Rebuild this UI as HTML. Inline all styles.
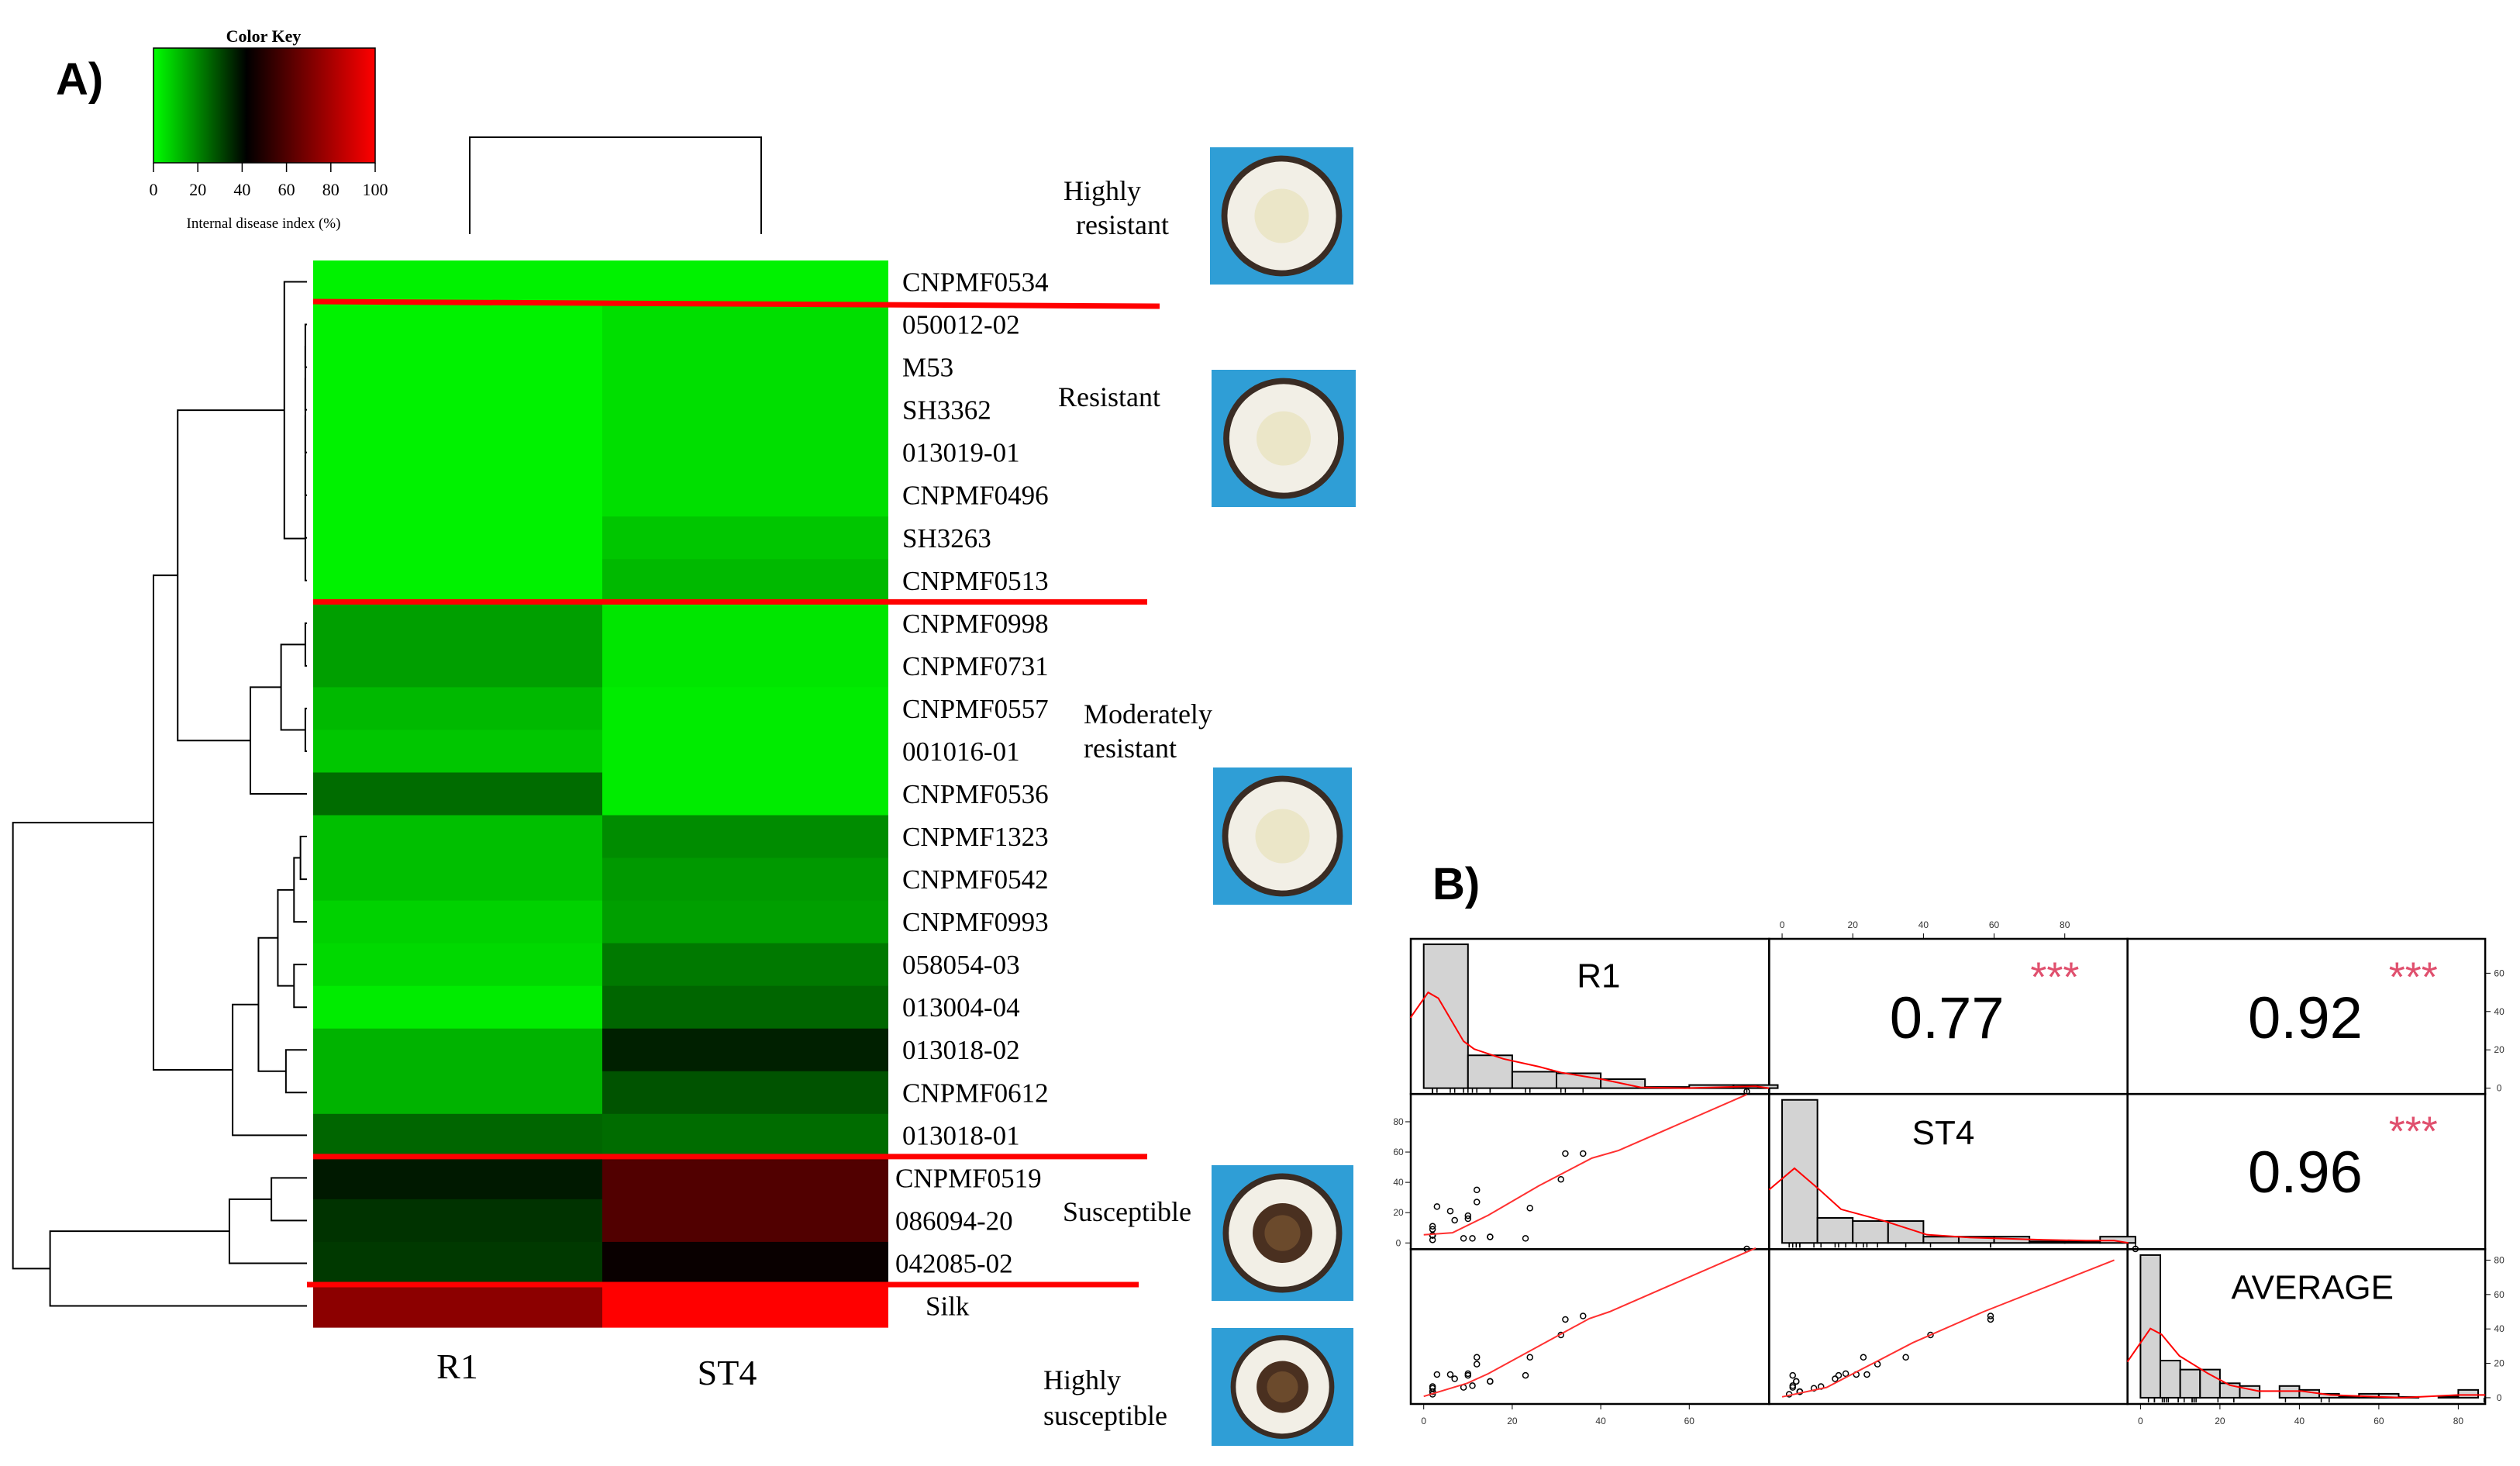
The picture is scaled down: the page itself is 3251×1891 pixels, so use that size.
<!DOCTYPE html>
<html><head><meta charset="utf-8"><style>
html,body{margin:0;padding:0;background:#fff;}
svg{display:block;}
.serif{font-family:"Liberation Serif",serif;}
.sans{font-family:"Liberation Sans",sans-serif;}
</style></head>
<body>
<svg id="fig" width="3251" height="1891" viewBox="0 0 3251 1891" xmlns="http://www.w3.org/2000/svg">
<defs>
<linearGradient id="keygrad" x1="0" x2="1" y1="0" y2="0">
<stop offset="0" stop-color="#00ff00"/><stop offset="0.42" stop-color="#000"/><stop offset="1" stop-color="#ff0000"/>
</linearGradient>
</defs>
<text class="sans" x="72" y="122" font-size="58" font-weight="bold">A)</text>
<text class="sans" x="1848" y="1160" font-size="58" font-weight="bold">B)</text>
<g>
<text class="serif" x="340" y="54" font-size="22" font-weight="bold" text-anchor="middle">Color Key</text>
<rect x="198" y="62" width="286" height="148" fill="url(#keygrad)" stroke="#000" stroke-width="1.5"/>
<g id="keyticks"></g>
<text class="serif" x="340" y="294" font-size="19" text-anchor="middle">Internal disease index (%)</text>
</g>
<g id="heat"></g>
<g id="dendro" stroke="#000" stroke-width="2" fill="none"></g>
<path d="M606 302 V177 H982 V302" stroke="#000" stroke-width="2" fill="none"/>
<g id="labels" class="serif" font-size="35"></g>
<g id="redlines" stroke="#ff0000" stroke-width="7"></g>
<text class="serif" x="590" y="1778" font-size="46" text-anchor="middle">R1</text>
<text class="serif" x="938" y="1786" font-size="46" text-anchor="middle">ST4</text>
<g class="serif" font-size="36">
<text x="1372" y="258">Highly<tspan x="1388" y="302">resistant</tspan></text>
<text x="1365" y="524">Resistant</text>
<text x="1398" y="933">Moderately<tspan x="1398" y="977">resistant</tspan></text>
<text x="1371" y="1575">Susceptible</text>
<text x="1346" y="1792">Highly<tspan x="1346" y="1838">susceptible</tspan></text>
</g>
<g id="photos"></g>
<g id="panelb"></g>
</svg>
<script>
// ---- heatmap data ----
const genotypes=["CNPMF0534","050012-02","M53","SH3362","013019-01","CNPMF0496","SH3263","CNPMF0513","CNPMF0998","CNPMF0731","CNPMF0557","001016-01","CNPMF0536","CNPMF1323","CNPMF0542","CNPMF0993","058054-03","013004-04","013018-02","CNPMF0612","013018-01","CNPMF0519","086094-20","042085-02","Silk"];
const r1Values=[2,2,2,2,2,2,2,2,15,15,11,9,23,10,10,7,6,3,12,12,24,36,32,31,73];
const st4Values=[2,5,5,5,5,5,9,11,4,4,3,3,3,18,16,15,21,24,35,27,23,59,59,42,100];
const keyTicks=[0,20,40,60,80,100];
const groupBreaks=[1,8,21,24];
// histogram densities (bin heights, relative units)
const r1HistBins=[0,10,20,30,40,50,60,70];
const r1HistH=[368,84,42,38,23,3,8,8];
const st4HistBins=[0,10,20,30,40,50,60,70,80,90];
const st4HistH=[366,64,56,56,16,16,16,4,4,16];
const avgHistBins=[0,5,10,15,20,25,30,35,40,45,50,55,60,65,70,75,80];
const avgHistH=[365,95,72,72,37,30,0,30,20,10,2,10,10,2,0,4,20];
const r1DensX=[-3,1,3.3,9,11.4,18,26,31,40.6,49,59,75,78];
const r1DensY=[180,245,230,120,100,75,55,40,22,2,0,5,0];
const st4DensX=[-3.7,3.5,10.6,16.7,29,41,53,74,86,94,98];
const st4DensY=[136,191,136,86,56,21,14,8,6,6,0];
const avgDensX=[-3.3,2.5,5.3,9.8,17,22.5,29.7,40.6,47.8,66,80,86.8];
const avgDensY=[92,177,162,107,62,32,17,17,7,0,7,7];
const smoothR1St4X=[0,6.5,14.6,26,38,44,73];
const smoothR1St4Y=[5.4,6.7,18.3,37.7,56,61,98];
const smoothR1AvgX=[0,9.8,14.6,37.4,42,75];
const smoothR1AvgY=[0.8,8.4,14,46,50,87];
const smoothSt4AvgX=[0,12.6,37,57,94];
const smoothSt4AvgY=[0.5,6,32,50,80];
const corrValues=["0.77","0.92","0.96"];
const axisTicks=[0,20,40,60,80];
// ---- tree (heights in display units) ----
const tree=[8,[95,[110,[176,0,[189,[189,[189,[189,[189,[189,1,2],3],4],5],6],7]],[155,[174,[189,8,9],[189,10,11]],12]],[144,[160,[172,[182,[186,13,14],15],[182,16,17]],[177,18,19]],20]],[31,[142,[168,21,22],23],24]];

const NS="http://www.w3.org/2000/svg";
function mk(tag,attrs,parent){const e=document.createElementNS(NS,tag);for(const k in attrs)e.setAttribute(k,attrs[k]);parent.appendChild(e);return e;}
const hx0=404,hxm=777,hx1=1146,hy0=336,hy1=1712,rowH=(hy1-hy0)/genotypes.length;
function rowY(i){return hy0+i*rowH;}
function color(v){if(v<=40){return `rgb(0,${Math.round(255*(1-v/40))},0)`;}return `rgb(${Math.round(255*(v-40)/60)},0,0)`;}
const heat=document.getElementById('heat'),labels=document.getElementById('labels');
genotypes.forEach((g,i)=>{
  const a=mk('rect',{x:hx0,y:rowY(i),width:hxm-hx0,height:rowH+0.6,fill:color(r1Values[i])},heat);
  
  
  const b=mk('rect',{x:hxm,y:rowY(i),width:hx1-hxm,height:rowH+0.6,fill:color(st4Values[i])},heat);
  
  
  const t=mk('text',{x:i>=21&&i<24?1155:(i==24?1194:1164),y:rowY(i)+rowH/2+12},labels);
  t.textContent=g;
  
  
});
const rl=document.getElementById('redlines');
const lineEnds=[1496,1480,1480,1469];
groupBreaks.forEach((b,k)=>{
  const y=rowY(b);
  const l=mk('line',{x1:k==3?396:404,y1:y-(k==0?2:0),x2:lineEnds[k],y2:y+(k==0?4:0)},rl);
  
  
});
const kt=document.getElementById('keyticks');
keyTicks.forEach(v=>{
  const x=198+286*v/100;
  mk('line',{x1:x,x2:x,y1:210,y2:222,stroke:'#000','stroke-width':1.5},kt);
  const t=mk('text',{x:x,y:252,'font-size':22,'text-anchor':'middle',class:'serif'},kt);
  t.textContent=v;
  
  
});
// dendrogram
const dg=document.getElementById('dendro');const S=2.084,leafX=396;
function draw(n){
  if(typeof n==='number')return{y:rowY(n)+rowH/2,x:leafX};
  const h=n[0]*S,a=draw(n[1]),b=draw(n[2]);
  mk('path',{d:`M${a.x} ${a.y} H${h} V${b.y} H${b.x}`},dg);
  return{y:(a.y+b.y)/2,x:h};
}
const root=draw(tree);
// photos
const ph=document.getElementById('photos');
const photoBoxes=[[1561,190,185,177,0],[1563,477,186,177,0.15],[1565,990,179,177,0.3],[1563,1503,183,175,0.6],[1563,1713,183,152,0.85]];
photoBoxes.forEach((p,i)=>{
  const g=mk('g',{},ph);
  
  
  mk('rect',{x:p[0],y:p[1],width:p[2],height:p[3],fill:'#2f9ed6'},g);
  const cx=p[0]+p[2]/2,cy=p[1]+p[3]/2,r=Math.min(p[2],p[3])*0.44;
  mk('circle',{cx:cx,cy:cy,r:r,fill:'#3a2c24'},g);
  mk('circle',{cx:cx,cy:cy,r:r*0.9,fill:'#f2efe6'},g);
  if(p[4]>0.5){mk('circle',{cx:cx,cy:cy,r:r*0.5,fill:'#4a3020'},g);mk('circle',{cx:cx,cy:cy,r:r*0.3,fill:'#6b4a2c'},g);}
  else mk('circle',{cx:cx,cy:cy,r:r*0.45,fill:'#ebe6c8'},g);
});
// ---- panel B ----
const pb=document.getElementById('panelb');
function zx(z){return 1820+(z-22)*0.9284;}
function zy(z){return 1211+(z-218)*0.5042;}
const colX=[v=>zx(40+6.15*v),v=>zx(538+4.91*v),v=>zx(1036+5.52*v)];
const base=[600,996,1392];
const rowYs=[v=>zy(600-4.9*v),v=>zy(996-3.875*v),v=>zy(1392-4.4*v)];
const cellXs=[22,520,1018,1515].map(zx),cellYs=[218,615,1012,1408].map(zy);
for(let r=0;r<3;r++)for(let c=0;c<3;c++){
  const e=mk('rect',{x:cellXs[c],y:cellYs[r],width:cellXs[c+1]-cellXs[c],height:cellYs[r+1]-cellYs[r],fill:'none',stroke:'#000','stroke-width':2.5},pb);
  
  
}
function hist(bins,hs,w,c,r){
  bins.forEach((b,i)=>{
    const x0=colX[c](b),x1=colX[c](b+w),y=zy(base[r]-hs[i]);
    const e=mk('rect',{x:x0,y:y,width:x1-x0,height:zy(base[r])-y,fill:'#d3d3d3',stroke:'#000','stroke-width':2},pb);
    
    
  });
}
hist(r1HistBins,r1HistH,10,0,0);hist(st4HistBins,st4HistH,10,1,1);hist(avgHistBins,avgHistH,5,2,2);
function dens(xs,ys,c,r){
  const e=mk('polyline',{points:xs.map((x,i)=>colX[c](x)+','+zy(base[r]-ys[i])).join(' '),fill:'none',stroke:'#ff0000','stroke-width':2},pb);
  
  
}
dens(r1DensX,r1DensY,0,0);dens(st4DensX,st4DensY,1,1);dens(avgDensX,avgDensY,2,2);
const avgValues=r1Values.map((v,i)=>(v+st4Values[i])/2);
function scatter(xv,yv,c,r){
  xv.forEach((x,i)=>{
    const e=mk('circle',{cx:colX[c](x),cy:rowYs[r](yv[i]),r:3.5,fill:'none',stroke:'#000','stroke-width':1.5},pb);
    
    
  });
}
scatter(r1Values,st4Values,0,1);scatter(r1Values,avgValues,0,2);scatter(st4Values,avgValues,1,2);
function smooth(xs,ys,c,r){
  const e=mk('polyline',{points:xs.map((x,i)=>colX[c](x)+','+rowYs[r](ys[i])).join(' '),fill:'none',stroke:'#ff3030','stroke-width':2},pb);
  
  
}
smooth(smoothR1St4X,smoothR1St4Y,0,1);smooth(smoothR1AvgX,smoothR1AvgY,0,2);smooth(smoothSt4AvgX,smoothSt4AvgY,1,2);
// rugs
function rug(vals,c,r){vals.forEach(v=>{const x=colX[c](v);mk('line',{x1:x,x2:x,y1:zy(base[r]),y2:zy(base[r])+6,stroke:'#000','stroke-width':1.5},pb);});}
rug(r1Values,0,0);rug(st4Values,1,1);rug(avgValues,2,2);
// text
function txt(s,x,y,size,fill,name,anchor){const t=mk('text',{x:x,y:y,'font-size':size,fill:fill||'#000','text-anchor':anchor||'middle',class:'sans'},pb);t.textContent=s;return t;}
txt('R1',zx(283),zy(310)+16,44,'#000','diag-label-r1');
txt('ST4',zx(762),zy(712)+16,44,'#000','diag-label-st4');
txt('AVERAGE',zx(1275),zy(1108)+16,44,'#000','diag-label-average');
const corrPos=[[767,420],[1265,420],[1265,815]];
corrValues.forEach((v,i)=>{txt(v,zx(corrPos[i][0]),zy(corrPos[i][1])+26,76,'#000','correlation-value');txt('***',zx(corrPos[i][0]+150),zy(corrPos[i][1]-120)+26,54,'#e0506e','significance-stars');});
// axes
axisTicks.forEach(v=>{
  let x=colX[1](v);mk('line',{x1:x,x2:x,y1:cellYs[0],y2:cellYs[0]-7,stroke:'#000'},pb);txt(v,x,cellYs[0]-14,12,'#333','top-axis-tick');
  x=colX[0](v);if(v<=60){mk('line',{x1:x,x2:x,y1:cellYs[3],y2:cellYs[3]+7,stroke:'#000'},pb);txt(v,x,cellYs[3]+26,12,'#333','bottom-axis-tick');}
  x=colX[2](v);mk('line',{x1:x,x2:x,y1:cellYs[3],y2:cellYs[3]+7,stroke:'#000'},pb);txt(v,x,cellYs[3]+26,12,'#333','bottom-axis-tick');
  let y=rowYs[1](v);mk('line',{x1:cellXs[0],x2:cellXs[0]-7,y1:y,y2:y,stroke:'#000'},pb);txt(v,cellXs[0]-16,y+4,12,'#333','left-axis-tick');
  y=rowYs[2](v);mk('line',{x1:cellXs[3],x2:cellXs[3]+7,y1:y,y2:y,stroke:'#000'},pb);txt(v,cellXs[3]+18,y+4,12,'#333','right-axis-tick');
  if(v<=60){y=rowYs[0](v);mk('line',{x1:cellXs[3],x2:cellXs[3]+7,y1:y,y2:y,stroke:'#000'},pb);txt(v,cellXs[3]+18,y+4,12,'#333','right-axis-tick');}
});
</script>
</body></html>
